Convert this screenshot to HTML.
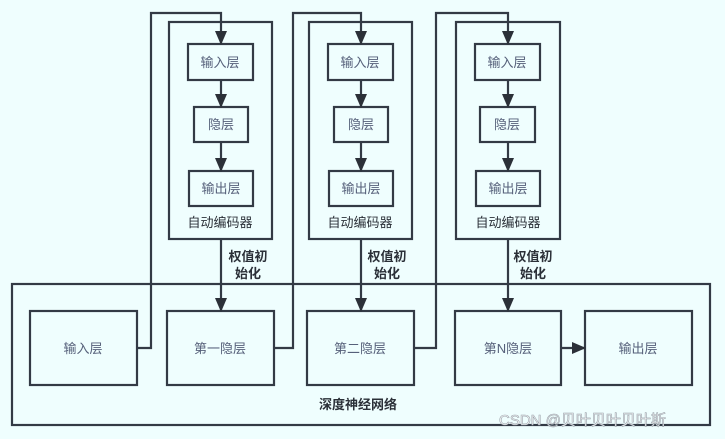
<!DOCTYPE html>
<html><head><meta charset="utf-8"><style>
html,body{margin:0;padding:0;background:#effefe;}
svg{display:block;}
text{font-family:"Liberation Sans","Noto Sans CJK SC",sans-serif;}
.n{font-size:13px;fill:#56607a;}
.b{font-size:13px;fill:#2b3038;font-weight:bold;}
.l{font-size:13px;fill:#2b3038;}
</style></head><body>
<svg width="725" height="439" viewBox="0 0 725 439" xmlns="http://www.w3.org/2000/svg">
<defs><marker id="a" markerWidth="10" markerHeight="10" refX="9" refY="5" orient="auto" markerUnits="userSpaceOnUse" viewBox="0 0 10 10"><path d="M0,0 L10,5 L0,10 z" fill="#2b3038"/></marker>
<marker id="h" markerWidth="14" markerHeight="14" refX="13" refY="7" orient="auto" markerUnits="userSpaceOnUse" viewBox="0 0 14 14"><path d="M0,1 L14,7 L0,13 z" fill="#2b3038"/></marker></defs>
<g fill="none" stroke="#333a45" stroke-width="2.2">
<rect x="12" y="284" width="698" height="141"/>
<rect x="30" y="311" width="107" height="74"/>
<rect x="167" y="311" width="107" height="74"/>
<rect x="307" y="311" width="107" height="74"/>
<rect x="455" y="311" width="106" height="74"/>
<rect x="585" y="311" width="107" height="74"/>
<!-- AE boxes -->
<rect x="169" y="22" width="103" height="217"/>
<rect x="309" y="22" width="103" height="217"/>
<rect x="456" y="22" width="104" height="217"/>
<rect x="188" y="44" width="65" height="36"/>
<rect x="194" y="107" width="54" height="35"/>
<rect x="189" y="171" width="64" height="35"/>
<rect x="328" y="44" width="65" height="36"/>
<rect x="334" y="107" width="54" height="35"/>
<rect x="329" y="171" width="64" height="35"/>
<rect x="475" y="44" width="65" height="36"/>
<rect x="480" y="107" width="55" height="35"/>
<rect x="476" y="171" width="64" height="35"/>
<!-- loops -->
<polyline points="137,348 151,348 151,13 221,13 221,44" marker-end="url(#h)"/>
<polyline points="274,348 293,348 293,13 361,13 361,44" marker-end="url(#h)"/>
<polyline points="414,348 436,348 436,13 508,13 508,44" marker-end="url(#h)"/>
<line x1="221" y1="80" x2="221" y2="107" marker-end="url(#h)"/>
<line x1="221" y1="142" x2="221" y2="171" marker-end="url(#h)"/>
<line x1="361" y1="80" x2="361" y2="107" marker-end="url(#h)"/>
<line x1="361" y1="142" x2="361" y2="171" marker-end="url(#h)"/>
<line x1="508" y1="80" x2="508" y2="107" marker-end="url(#h)"/>
<line x1="508" y1="142" x2="508" y2="171" marker-end="url(#h)"/>
<line x1="221" y1="239" x2="221" y2="311" marker-end="url(#h)"/>
<line x1="361" y1="239" x2="361" y2="311" marker-end="url(#h)"/>
<line x1="508" y1="239" x2="508" y2="311" marker-end="url(#h)"/>
<line x1="561" y1="348" x2="585" y2="348" marker-end="url(#h)"/>
</g>
<g text-anchor="middle">
<text class="n" x="220" y="67">输入层</text><text class="n" x="221" y="129">隐层</text><text class="n" x="221" y="193">输出层</text>
<text class="n" x="360" y="67">输入层</text><text class="n" x="361" y="129">隐层</text><text class="n" x="361" y="193">输出层</text>
<text class="n" x="507" y="67">输入层</text><text class="n" x="507" y="129">隐层</text><text class="n" x="508" y="193">输出层</text>
<text class="l" x="220" y="227">自动编码器</text><text class="l" x="360" y="227">自动编码器</text><text class="l" x="508" y="227">自动编码器</text>
<text class="b" x="248" y="261">权值初</text><text class="b" x="248" y="278">始化</text>
<text class="b" x="387" y="261">权值初</text><text class="b" x="387" y="278">始化</text>
<text class="b" x="533" y="261">权值初</text><text class="b" x="533" y="278">始化</text>
<text class="n" x="83" y="353">输入层</text>
<text class="n" x="220" y="353">第一隐层</text>
<text class="n" x="360" y="353">第二隐层</text>
<text class="n" x="508" y="353">第N隐层</text>
<text class="n" x="638" y="353">输出层</text>
<text class="b" x="358" y="409">深度神经网络</text>
</g>
<text x="499" y="425" font-size="15" fill="#ffffff" stroke="#9aa2aa" stroke-width="0.6" style="font-family:'Liberation Sans','Noto Sans CJK SC',sans-serif">CSDN @贝叶贝叶贝叶斯</text>
</svg>
</body></html>
